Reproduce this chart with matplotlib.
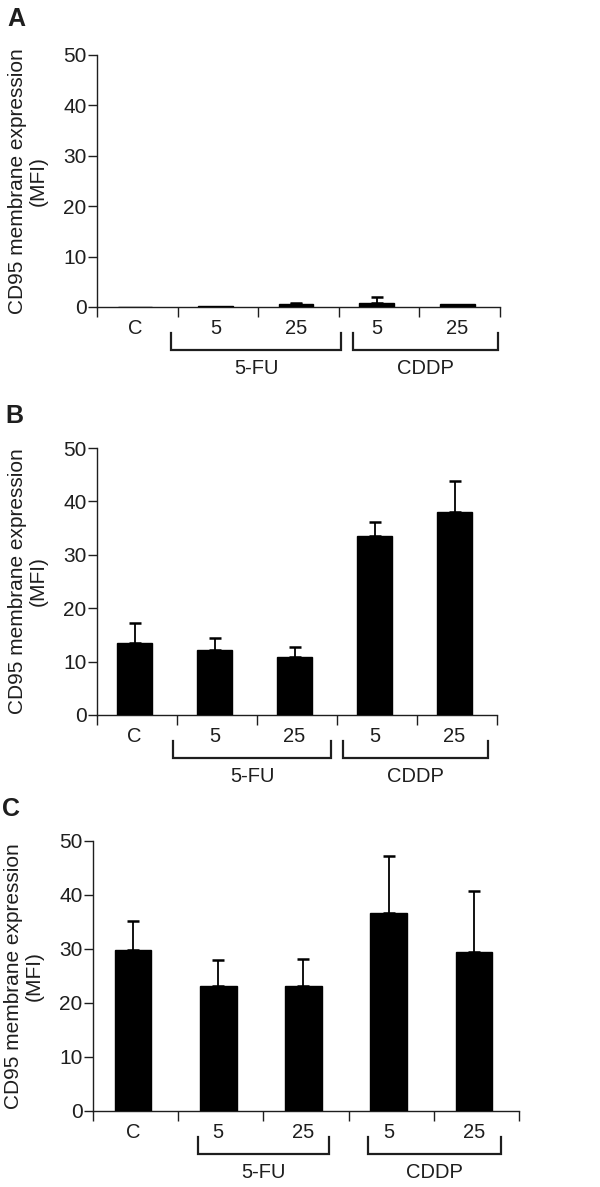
import numpy as np
import matplotlib
matplotlib.use('Agg')
import matplotlib.pyplot as plt
from matplotlib.transforms import blended_transform_factory, ScaledTranslation
from matplotlib.lines import Line2D

plt.rcParams['font.family'] = ['Liberation Sans', 'DejaVu Sans']
TXT = '#1e1e1e'

# data
categories = ['C', '5', '25', '5', '25']
groups = ['5-FU', 'CDDP']
means_a = [0.05, 0.1, 0.6, 0.85, 0.5]
err_a = [0.0, 0.0, 0.2, 1.15, 0.0]
means_b = [13.5, 12.2, 10.8, 33.5, 38.1]
err_b = [3.8, 2.3, 2.0, 2.6, 5.8]
means_c = [29.8, 23.2, 23.2, 36.7, 29.5]
err_c = [5.4, 4.7, 5.0, 10.6, 11.3]
yticks = [0, 10, 20, 30, 40, 50]

W, H = 600, 1187
fig = plt.figure(figsize=(W / 100, H / 100), dpi=100)

# panel layout in pixels: left, right, top(y=50), bottom(y=0), bracket spans, letter pos
panels = [
    ('A', means_a, err_a, (97, 500, 55, 307), [(0.92, 3.03), (3.18, 4.98)], (7, 7)),
    ('B', means_b, err_b, (97, 497, 448, 715), [(0.95, 2.93), (3.08, 4.89)], (5, 404)),
    ('C', means_c, err_c, (93, 519, 841, 1111), [(1.23, 2.77), (3.23, 4.79)], (2, 797)),
]


def down(ax, px):
    # x in data units, y at the axis bottom moved down by px pixels
    base = blended_transform_factory(ax.transData, ax.transAxes)
    return base + ScaledTranslation(0, -px / 100, fig.dpi_scale_trans)


for letter, means, errs, (l, r, t, b), spans, (lx, ly) in panels:
    ax = fig.add_axes([l / W, 1 - b / H, (r - l) / W, (b - t) / H])
    x = np.arange(len(categories)) + 0.47
    ax.bar(x, means, width=0.43, color='black', edgecolor='black', linewidth=1, zorder=3)
    sel = [i for i, e in enumerate(errs) if e > 0]
    ax.errorbar(x[sel], np.array(means)[sel], yerr=[np.zeros(len(sel)), np.array(errs)[sel]],
                fmt='none', ecolor='black', elinewidth=1.3, capsize=4.6, capthick=1.8, zorder=2)

    ax.set_xlim(0, len(categories))
    ax.set_ylim(0, 50)
    ax.set_yticks(yticks)
    ax.set_yticklabels([str(v) for v in yticks], fontsize=15, color=TXT)
    ax.set_xticks(np.arange(len(categories) + 1))
    ax.set_xticklabels([])
    ax.tick_params(axis='x', direction='out', length=7.5, width=1, color=TXT)
    ax.tick_params(axis='y', direction='out', length=6.5, width=1, color=TXT, pad=1)
    for s in ['top', 'right']:
        ax.spines[s].set_visible(False)
    for s in ['left', 'bottom']:
        ax.spines[s].set_linewidth(1)
        ax.spines[s].set_color(TXT)

    # category labels
    for xi, c in zip(x, categories):
        ax.text(xi, 0, c, transform=down(ax, 21), ha='center', va='center',
                fontsize=14.5, color=TXT)

    # group brackets
    for (x0, x1), g in zip(spans, groups):
        top = down(ax, 26)
        bot = down(ax, 43)
        pts = np.array([top.transform((x0, 0)), bot.transform((x0, 0)),
                        bot.transform((x1, 0)), top.transform((x1, 0))])
        fig.add_artist(Line2D(pts[:, 0], pts[:, 1], transform=None, color=TXT, lw=1.6,
                              solid_joinstyle='miter'))
        ax.text((x0 + x1) / 2, 0, g, transform=down(ax, 62), ha='center', va='center',
                fontsize=14.5, color=TXT)

    ax.text(-69 / (r - l), 0.5, 'CD95 membrane expression\n(MFI)', transform=ax.transAxes,
            rotation=90, ha='center', va='center', fontsize=15, color=TXT,
            linespacing=1.15)
    fig.text(lx / W, 1 - ly / H, letter, ha='left', va='top', fontsize=18,
             fontweight='bold', color=TXT)

fig.savefig('out.png', dpi=100)
